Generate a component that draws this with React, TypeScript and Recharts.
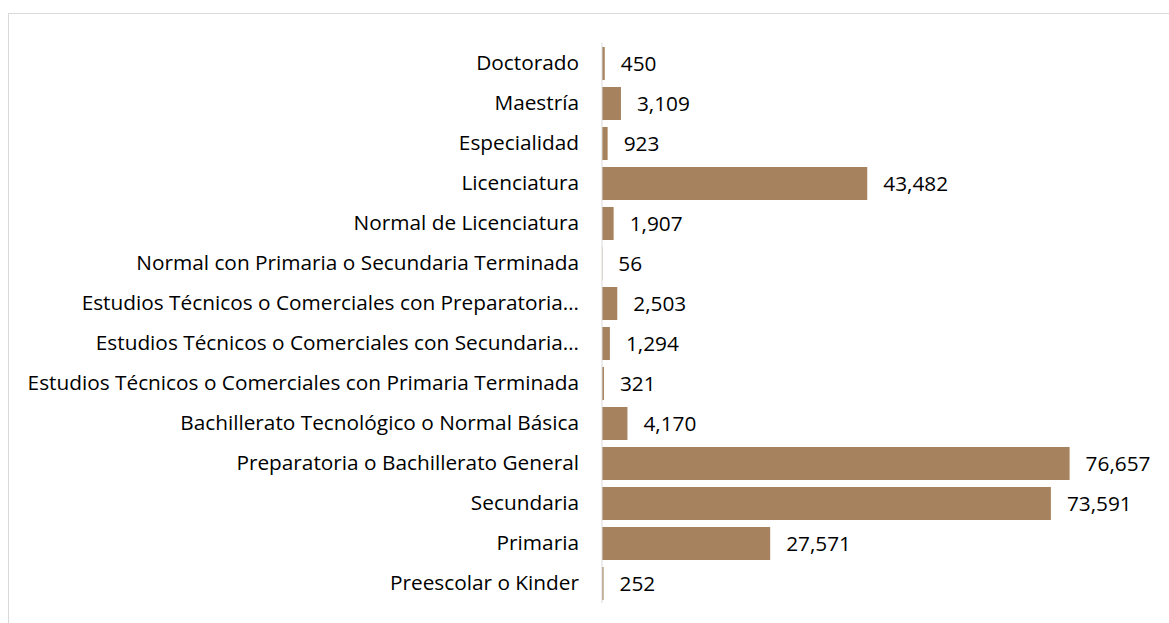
import React from "react";
import { BarChart, Bar, XAxis, YAxis, LabelList } from "recharts";

const categories = [
  "Doctorado",
  "Maestría",
  "Especialidad",
  "Licenciatura",
  "Normal de Licenciatura",
  "Normal con Primaria o Secundaria Terminada",
  "Estudios Técnicos o Comerciales con Preparatoria…",
  "Estudios Técnicos o Comerciales con Secundaria…",
  "Estudios Técnicos o Comerciales con Primaria Terminada",
  "Bachillerato Tecnológico o Normal Básica",
  "Preparatoria o Bachillerato General",
  "Secundaria",
  "Primaria",
  "Preescolar o Kinder",
];

const values = [450, 3109, 923, 43482, 1907, 56, 2503, 1294, 321, 4170, 76657, 73591, 27571, 252];

const data = categories.map((name, i) => ({ name, value: values[i] }));

const FONT = "'Open Sans', 'Noto Sans', sans-serif";
const fmt = (v: any) => Number(v).toLocaleString("en-US");

export default function App() {
  return (
    <div
      style={{
        position: "fixed",
        left: 8,
        top: 13,
        width: 1161,
        height: 610,
        boxSizing: "border-box",
        borderTop: "1px solid #d9d9d9",
        borderLeft: "1px solid #d9d9d9",
        background: "#fff",
      }}
    >
      <BarChart
        width={1160}
        height={609}
        data={data}
        layout="vertical"
        margin={{ top: 29, right: 79, bottom: 20, left: 0 }}
        barSize={33}
      >
        <XAxis type="number" domain={[0, 80000]} hide />
        <YAxis
          type="category"
          dataKey="name"
          width={593}
          axisLine={{ stroke: "#d9d9d9", strokeWidth: 1 }}
          tickLine={false}
          tickSize={0}
          tickMargin={23}
          interval={0}
          tick={{ fill: "#000", fontSize: 20.8, fontFamily: FONT }}
        />
        <Bar dataKey="value" fill="#A6825E" isAnimationActive={false}>
          <LabelList
            dataKey="value"
            position="right"
            offset={16}
            formatter={fmt}
            style={{ fill: "#000", fontSize: 20.8, fontFamily: FONT }}
          />
        </Bar>
      </BarChart>
    </div>
  );
}
